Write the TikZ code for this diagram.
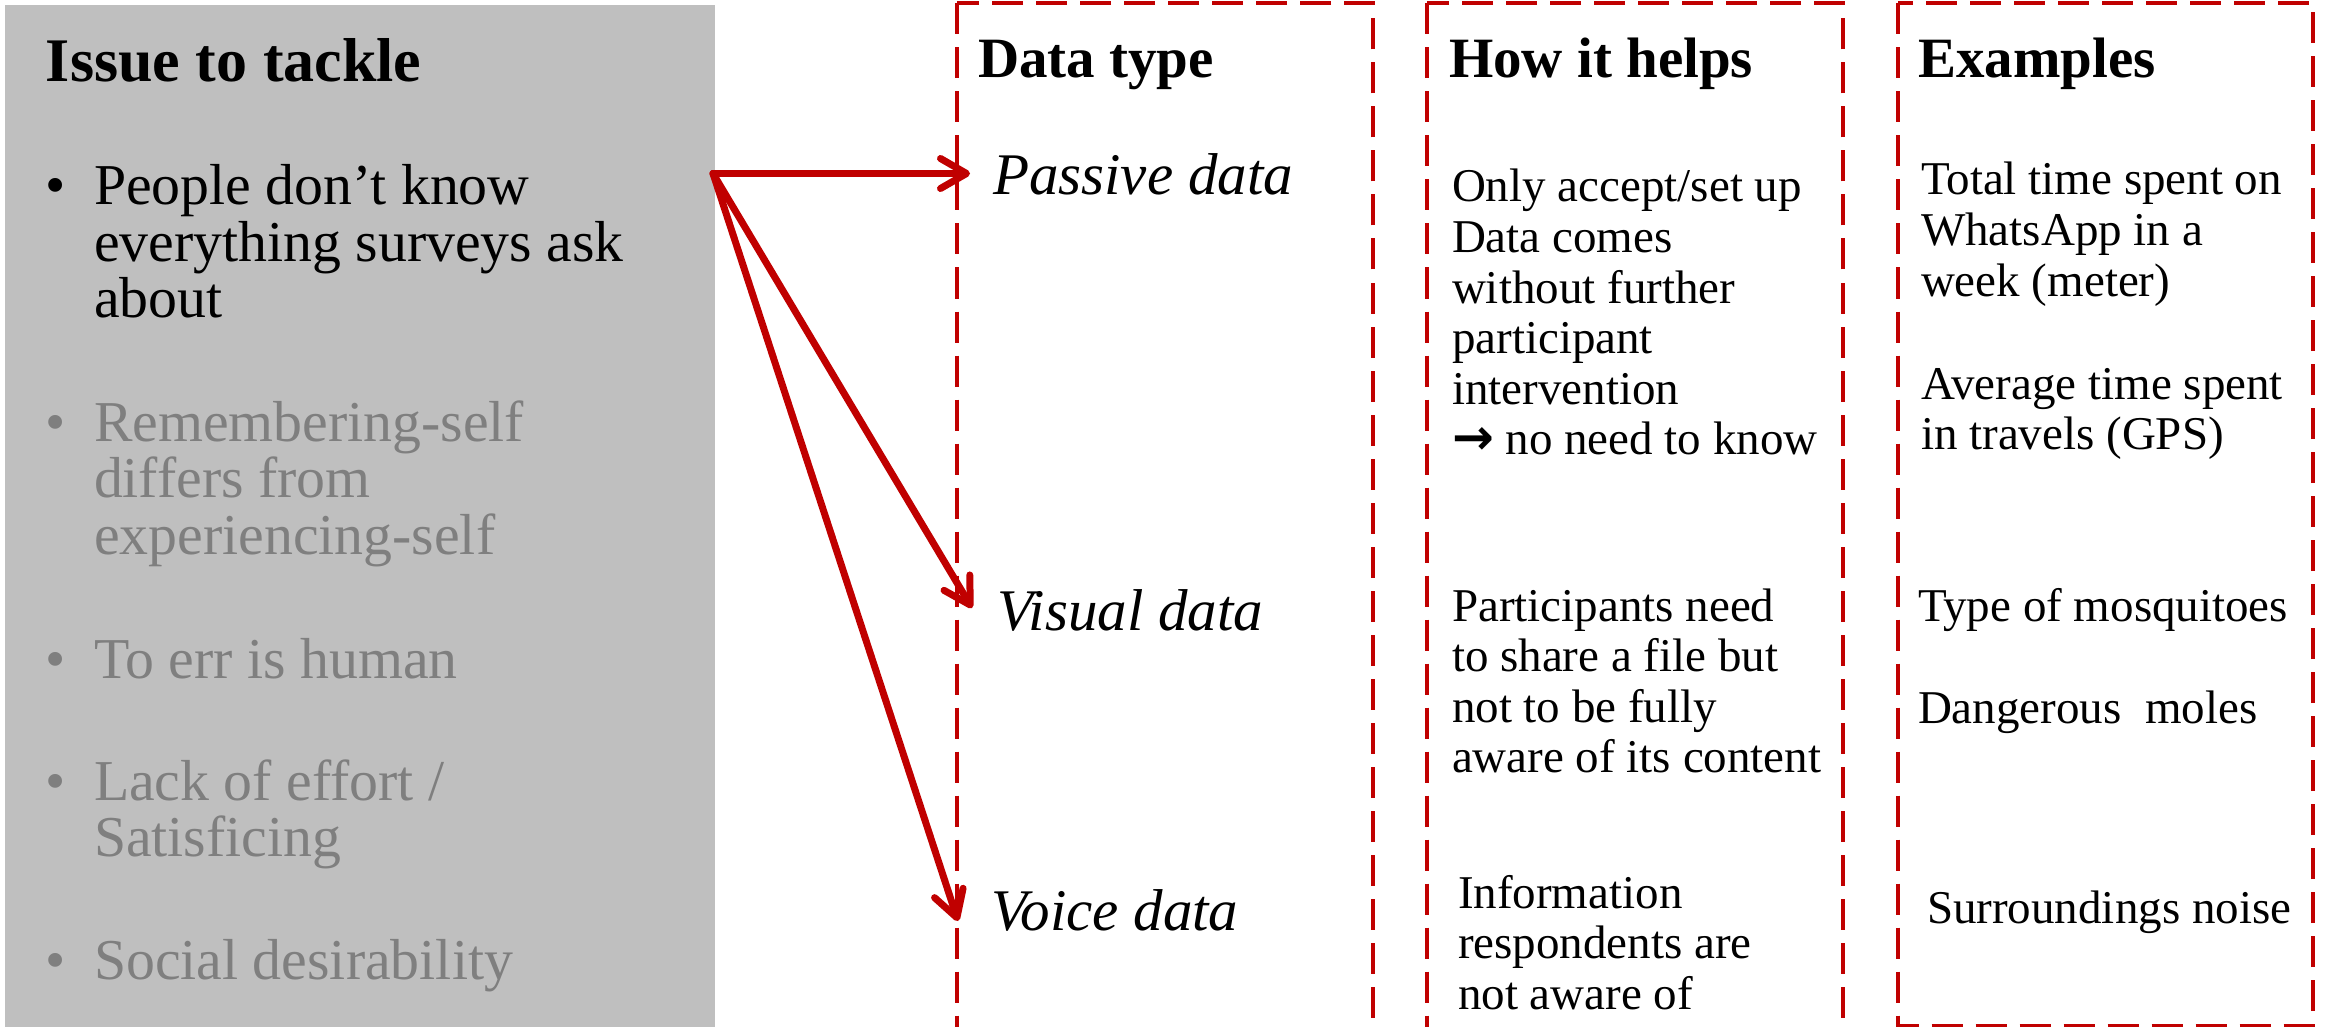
\documentclass[tikz,border=0pt]{standalone}
\usepackage{fontspec}
\setmainfont{Liberation Serif}
\newfontfamily\arrowfont{DejaVu Sans}
\usetikzlibrary{arrows.meta}

\definecolor{panelgray}{HTML}{BFBFBF}
\definecolor{mutedtext}{HTML}{7F7F7F}
\definecolor{accentred}{HTML}{C00000}

% multi-line block whose reference point is the first baseline
\newcommand\lineblock[1]{\parbox[t]{600pt}{\raggedright #1}}
\newcommand\thusarrow{{\arrowfont\bfseries\fontsize{25pt}{25pt}\selectfont →}}

\tikzset{
  txt/.style={anchor=base west, inner sep=0pt, outer sep=0pt, yshift=-1.5pt},
  panelhead/.style={txt, font=\fontsize{31pt}{31pt}\selectfont\bfseries},
  paneltxt/.style={txt, font=\fontsize{28.9pt}{28.25pt}\selectfont},
  colhead/.style={txt, font=\fontsize{28.5pt}{30pt}\selectfont\bfseries},
  dtype/.style={txt, font=\fontsize{29.5pt}{30pt}\selectfont\itshape},
  cell/.style={txt, font=\fontsize{23.5pt}{25.3pt}\selectfont},
  column/.style={draw=accentred, line width=2pt, dash pattern=on 15.5pt off 6.5pt},
  link/.style={draw=accentred, line width=3.5pt, line cap=round,
    -{Straight Barb[length=13pt,width=15pt,round]}}
}

\begin{document}
\begin{tikzpicture}[x=0.5pt, y=-0.5pt]
  \useasboundingbox (0,0) rectangle (2328,1027);

  % left panel with the issues
  \fill[panelgray] (5,5) rectangle (715,1027);
  \node[panelhead] (issuehead) at (46,79) {Issue to tackle};

  \node[paneltxt] (b1) at (46,202) {\textbullet};
  \node[paneltxt] (issue1) at (94,202) {\lineblock{People don’t know\\everything surveys ask\\about}};

  \begin{scope}[mutedtext]
    \node[paneltxt] (b2) at (46,438) {\textbullet};
    \node[paneltxt] (issue2) at (94,438) {\lineblock{Remembering-self\\differs from\\experiencing-self}};
    \node[paneltxt] (b3) at (46,675) {\textbullet};
    \node[paneltxt] (issue3) at (94,675) {To err is human};
    \node[paneltxt] (b4) at (46,797) {\textbullet};
    \node[paneltxt] (issue4) at (94,797) {\lineblock{Lack of effort /\\Satisficing}};
    \node[paneltxt] (b5) at (46,976) {\textbullet};
    \node[paneltxt] (issue5) at (94,976) {Social desirability};
  \end{scope}

  % dashed columns
  \draw[column] (957,3.5) rectangle (1373,1028.5);
  \draw[column] (1427,3.5) rectangle (1843,1028.5);
  \draw[column] (1897.5,3.5) rectangle (2313,1025.5);

  % column headers
  \node[colhead] (hdtype) at (978,75) {Data type};
  \node[colhead] (hhelps) at (1449,75) {How it helps};
  \node[colhead] (hexamples) at (1918,75) {Examples};

  % data types
  \node[dtype] (passive) at (993,192) {Passive data};
  \node[dtype] (visual) at (997,627) {Visual data};
  \node[dtype] (voice) at (991,927) {Voice data};

  % how it helps
  \node[cell] (help1) at (1452,199) {\lineblock{Only accept/set up\\Data comes\\without further\\participant\\intervention\\\thusarrow\ no need to know}};
  \node[cell] (help2) at (1452,618) {\lineblock{Participants need\\to share a file but\\not to be fully\\aware of its content}};
  \node[cell] (help3) at (1458,905) {\lineblock{Information\\respondents are\\not aware of}};

  % examples
  \node[cell] (ex1) at (1921,192) {\lineblock{Total time spent on\\WhatsApp in a\\week (meter)}};
  \node[cell] (ex1b) at (1921,396) {\lineblock{Average time spent\\in travels (GPS)}};
  \node[cell] (ex2) at (1918,618) {Type of mosquitoes};
  \node[cell] (ex2b) at (1918,720) {Dangerous\ \ moles};
  \node[cell] (ex3) at (1927,920) {Surroundings noise};

  % connectors from the first issue to the data types
  \coordinate (src) at (713,173.5);
  \coordinate (toPassive) at (970,173.5);
  \coordinate (toVisual) at (972,608);
  \coordinate (toVoice) at (958,921);
  \draw[link] (src) -- (toPassive);
  \draw[link] (src) -- (toVisual);
  \draw[link] (src) -- (toVoice);
\end{tikzpicture}
\end{document}
